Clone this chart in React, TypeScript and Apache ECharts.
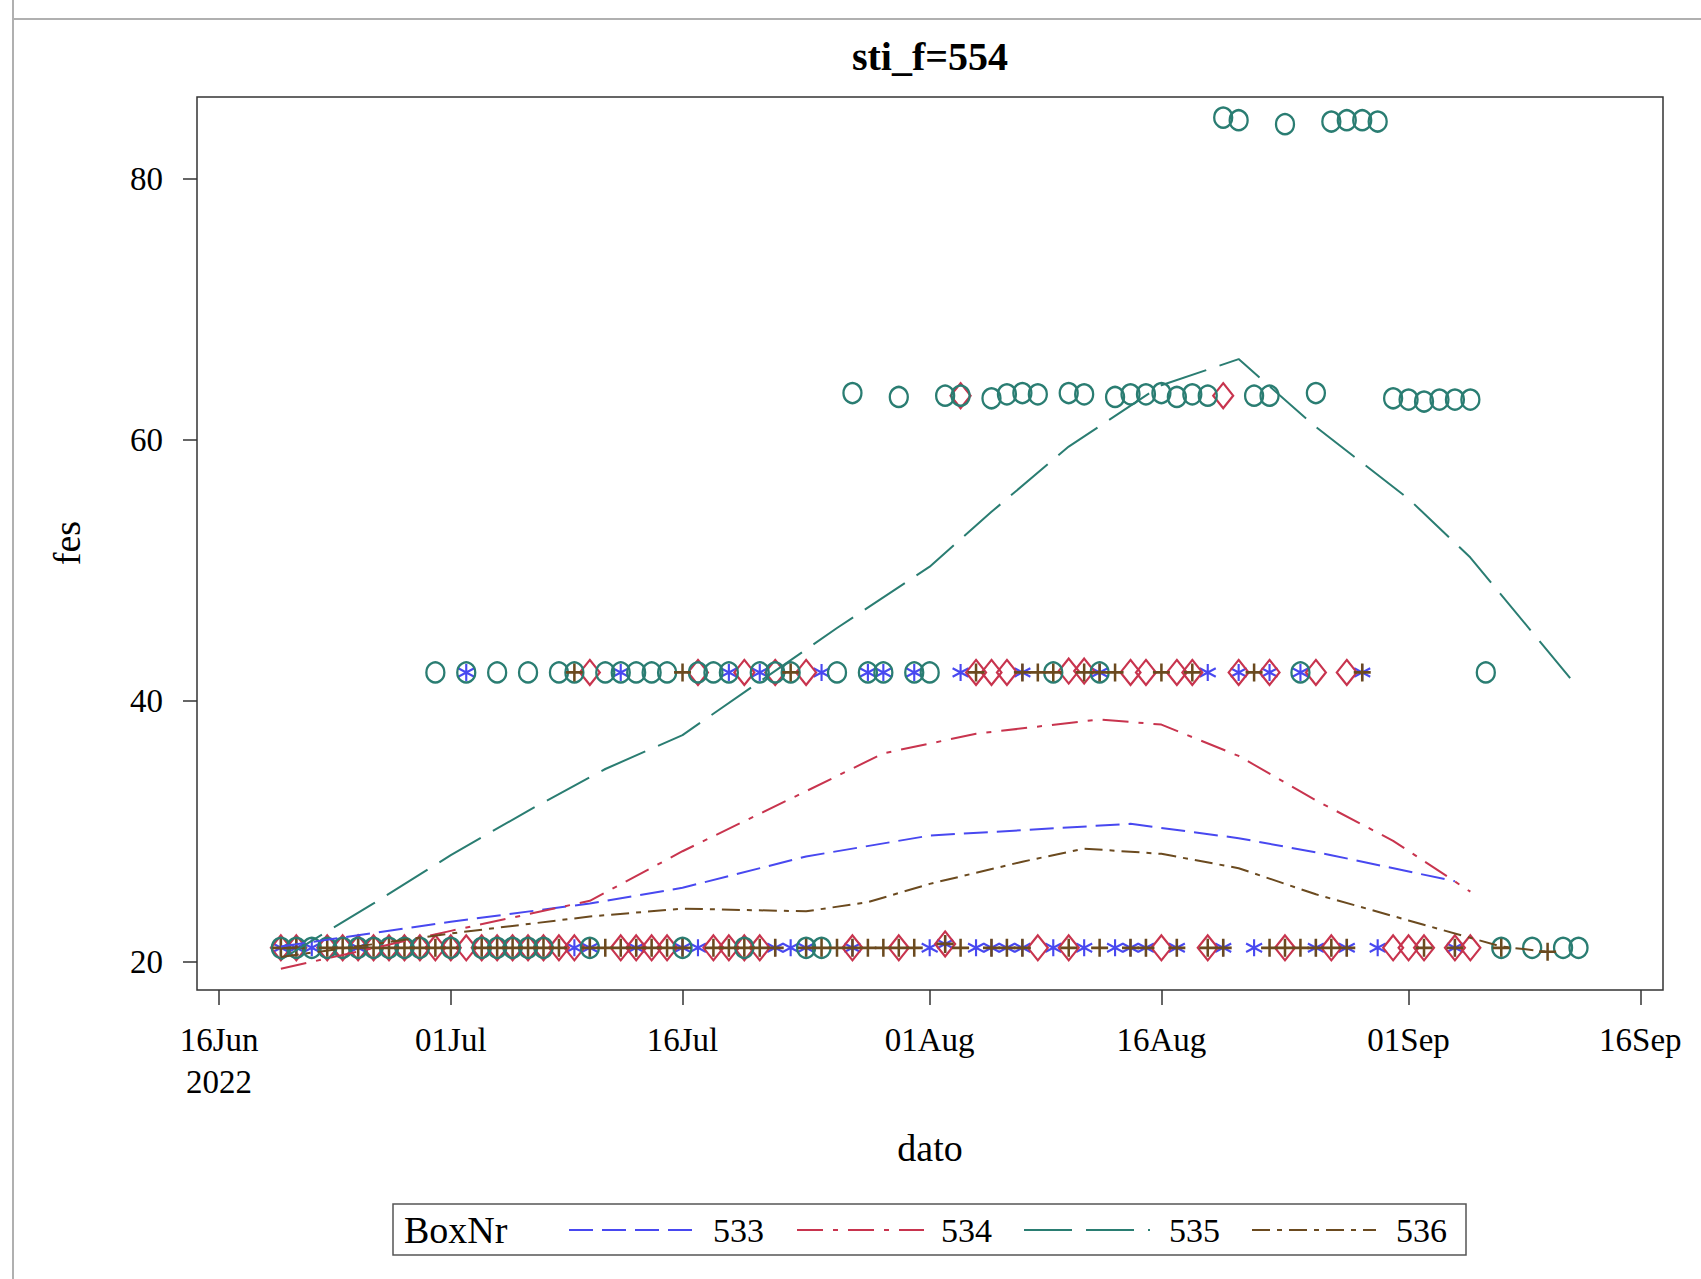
import React, { useEffect, useRef } from 'react';
import * as echarts from 'echarts';

// ---------- data ----------
const boxNames = ['533', '534', '535', '536'];
const boxColors = ['#4848f0', '#c8344e', '#2a7d72', '#6b4a1f'];

const xTickDates = ['2022-06-16', '2022-07-01', '2022-07-16', '2022-08-01', '2022-08-16', '2022-09-01', '2022-09-16'];
const yTickValues = [20, 40, 60, 80];

// scatter points: [dato, fes]
const box533Points: [string, number][] = [
  ['2022-06-20', 21.1], ['2022-06-21', 21.1], ['2022-06-22', 21.1], ['2022-06-25', 21.1], ['2022-07-09', 21.1],
  ['2022-07-10', 21.1], ['2022-07-13', 21.1], ['2022-07-16', 21.1], ['2022-07-17', 21.1], ['2022-07-22', 21.1],
  ['2022-07-23', 21.1], ['2022-07-24', 21.1], ['2022-07-27', 21.1], ['2022-08-01', 21.1], ['2022-08-02', 21.4],
  ['2022-08-04', 21.1], ['2022-08-05', 21.1], ['2022-08-06', 21.1], ['2022-08-07', 21.1], ['2022-08-09', 21.1],
  ['2022-08-11', 21.1], ['2022-08-13', 21.1], ['2022-08-14', 21.1], ['2022-08-15', 21.1], ['2022-08-17', 21.1],
  ['2022-08-20', 21.1], ['2022-08-22', 21.1], ['2022-08-26', 21.1], ['2022-08-28', 21.1], ['2022-08-30', 21.1],
  ['2022-09-04', 21.1],
  ['2022-07-02', 42.2], ['2022-07-12', 42.2], ['2022-07-19', 42.2], ['2022-07-21', 42.2], ['2022-07-25', 42.2],
  ['2022-07-28', 42.2], ['2022-07-29', 42.2], ['2022-07-31', 42.2], ['2022-08-03', 42.2], ['2022-08-07', 42.2],
  ['2022-08-12', 42.2], ['2022-08-19', 42.2], ['2022-08-21', 42.2], ['2022-08-23', 42.2], ['2022-08-25', 42.2],
  ['2022-08-29', 42.2],
];

const box534Points: [string, number][] = [
  ['2022-06-20', 21.1], ['2022-06-21', 21.1], ['2022-06-23', 21.1], ['2022-06-24', 21.1], ['2022-06-25', 21.1],
  ['2022-06-26', 21.1], ['2022-06-27', 21.1], ['2022-06-28', 21.1], ['2022-06-29', 21.1], ['2022-06-30', 21.1],
  ['2022-07-01', 21.1], ['2022-07-02', 21.1], ['2022-07-03', 21.1], ['2022-07-04', 21.1], ['2022-07-05', 21.1],
  ['2022-07-06', 21.1], ['2022-07-07', 21.1], ['2022-07-08', 21.1], ['2022-07-09', 21.1], ['2022-07-12', 21.1],
  ['2022-07-13', 21.1], ['2022-07-14', 21.1], ['2022-07-15', 21.1], ['2022-07-18', 21.1], ['2022-07-19', 21.1],
  ['2022-07-20', 21.1], ['2022-07-21', 21.1], ['2022-07-27', 21.1], ['2022-07-30', 21.1], ['2022-08-02', 21.4],
  ['2022-08-08', 21.1], ['2022-08-10', 21.1], ['2022-08-16', 21.1], ['2022-08-19', 21.1], ['2022-08-24', 21.1],
  ['2022-08-27', 21.1], ['2022-08-31', 21.1], ['2022-09-01', 21.1], ['2022-09-02', 21.1], ['2022-09-04', 21.1],
  ['2022-09-05', 21.1],
  ['2022-07-10', 42.2], ['2022-07-17', 42.2], ['2022-07-20', 42.2], ['2022-07-22', 42.2], ['2022-07-24', 42.2],
  ['2022-08-04', 42.2], ['2022-08-05', 42.2], ['2022-08-06', 42.2], ['2022-08-10', 42.3], ['2022-08-11', 42.3],
  ['2022-08-14', 42.2], ['2022-08-15', 42.2], ['2022-08-17', 42.2], ['2022-08-18', 42.2], ['2022-08-21', 42.2],
  ['2022-08-23', 42.2], ['2022-08-26', 42.2], ['2022-08-28', 42.2],
  ['2022-08-03', 63.4], ['2022-08-20', 63.4],
];

const box535Points: [string, number][] = [
  ['2022-06-20', 21.1], ['2022-06-21', 21.1], ['2022-06-22', 21.1], ['2022-06-23', 21.1], ['2022-06-24', 21.1],
  ['2022-06-25', 21.1], ['2022-06-26', 21.1], ['2022-06-27', 21.1], ['2022-06-28', 21.1], ['2022-06-29', 21.1],
  ['2022-07-01', 21.1], ['2022-07-03', 21.1], ['2022-07-04', 21.1], ['2022-07-05', 21.1], ['2022-07-06', 21.1],
  ['2022-07-07', 21.1], ['2022-07-10', 21.1], ['2022-07-16', 21.1], ['2022-07-20', 21.1], ['2022-07-24', 21.1],
  ['2022-07-25', 21.1], ['2022-09-07', 21.1], ['2022-09-09', 21.1], ['2022-09-11', 21.1], ['2022-09-12', 21.1],
  ['2022-06-30', 42.2], ['2022-07-02', 42.2], ['2022-07-04', 42.2], ['2022-07-06', 42.2], ['2022-07-08', 42.2],
  ['2022-07-09', 42.2], ['2022-07-11', 42.2], ['2022-07-12', 42.2], ['2022-07-13', 42.2], ['2022-07-14', 42.2],
  ['2022-07-15', 42.2], ['2022-07-17', 42.2], ['2022-07-18', 42.2], ['2022-07-19', 42.2], ['2022-07-21', 42.2],
  ['2022-07-22', 42.2], ['2022-07-23', 42.2], ['2022-07-26', 42.2], ['2022-07-28', 42.2], ['2022-07-29', 42.2],
  ['2022-07-31', 42.2], ['2022-08-01', 42.2], ['2022-08-09', 42.2], ['2022-08-12', 42.2], ['2022-08-25', 42.2],
  ['2022-09-06', 42.2],
  ['2022-07-27', 63.6], ['2022-07-30', 63.3], ['2022-08-02', 63.4], ['2022-08-03', 63.4], ['2022-08-05', 63.2],
  ['2022-08-06', 63.5], ['2022-08-07', 63.6], ['2022-08-08', 63.5], ['2022-08-10', 63.6], ['2022-08-11', 63.5],
  ['2022-08-13', 63.3], ['2022-08-14', 63.5], ['2022-08-15', 63.5], ['2022-08-16', 63.6], ['2022-08-17', 63.3],
  ['2022-08-18', 63.5], ['2022-08-19', 63.4], ['2022-08-22', 63.4], ['2022-08-23', 63.4], ['2022-08-26', 63.6],
  ['2022-08-31', 63.2], ['2022-09-01', 63.1], ['2022-09-02', 62.95], ['2022-09-03', 63.1], ['2022-09-04', 63.1],
  ['2022-09-05', 63.1],
  ['2022-08-20', 84.7], ['2022-08-21', 84.5], ['2022-08-24', 84.2], ['2022-08-27', 84.4], ['2022-08-28', 84.5],
  ['2022-08-29', 84.5], ['2022-08-30', 84.4],
];

const box536Points: [string, number][] = [
  ['2022-06-20', 21.1], ['2022-06-21', 21.1], ['2022-06-23', 21.1], ['2022-06-24', 21.1], ['2022-06-25', 21.1],
  ['2022-06-26', 21.1], ['2022-06-27', 21.1], ['2022-06-28', 21.1], ['2022-06-29', 21.1], ['2022-06-30', 21.1],
  ['2022-07-01', 21.1], ['2022-07-03', 21.1], ['2022-07-04', 21.1], ['2022-07-05', 21.1], ['2022-07-06', 21.1],
  ['2022-07-07', 21.1], ['2022-07-08', 21.1], ['2022-07-10', 21.1], ['2022-07-11', 21.1], ['2022-07-12', 21.1],
  ['2022-07-13', 21.1], ['2022-07-14', 21.1], ['2022-07-15', 21.1], ['2022-07-16', 21.1], ['2022-07-18', 21.1],
  ['2022-07-19', 21.1], ['2022-07-20', 21.1], ['2022-07-21', 21.1], ['2022-07-22', 21.1], ['2022-07-24', 21.1],
  ['2022-07-25', 21.1], ['2022-07-26', 21.1], ['2022-07-27', 21.1], ['2022-07-28', 21.1], ['2022-07-29', 21.1],
  ['2022-07-30', 21.1], ['2022-07-31', 21.1], ['2022-08-02', 21.4], ['2022-08-03', 21.1], ['2022-08-05', 21.1],
  ['2022-08-06', 21.1], ['2022-08-07', 21.1], ['2022-08-10', 21.1], ['2022-08-12', 21.1], ['2022-08-14', 21.1],
  ['2022-08-15', 21.1], ['2022-08-17', 21.1], ['2022-08-19', 21.1], ['2022-08-20', 21.1], ['2022-08-23', 21.1],
  ['2022-08-24', 21.1], ['2022-08-25', 21.1], ['2022-08-26', 21.1], ['2022-08-27', 21.1], ['2022-08-28', 21.1],
  ['2022-09-02', 21.1], ['2022-09-04', 21.1], ['2022-09-07', 21.1], ['2022-09-10', 20.8],
  ['2022-07-09', 42.2], ['2022-07-16', 42.2], ['2022-07-23', 42.2], ['2022-08-04', 42.2], ['2022-08-07', 42.2],
  ['2022-08-08', 42.2], ['2022-08-09', 42.2], ['2022-08-11', 42.2], ['2022-08-12', 42.2], ['2022-08-13', 42.2],
  ['2022-08-16', 42.2], ['2022-08-18', 42.2], ['2022-08-22', 42.2], ['2022-08-29', 42.2],
];

// loess fits: [dato, fes]
const box533Loess: [string, number][] = [
  ['2022-06-20', 21.2], ['2022-07-01', 23.1], ['2022-07-10', 24.5], ['2022-07-16', 25.7], ['2022-07-24', 28.1],
  ['2022-08-01', 29.7], ['2022-08-14', 30.6], ['2022-08-21', 29.5], ['2022-08-27', 28.2], ['2022-09-04', 26.2],
];
const box534Loess: [string, number][] = [
  ['2022-06-20', 19.5], ['2022-07-01', 22.4], ['2022-07-10', 24.7], ['2022-07-16', 28.5], ['2022-07-24', 33.1],
  ['2022-07-29', 36.0], ['2022-08-04', 37.5], ['2022-08-12', 38.6], ['2022-08-16', 38.2], ['2022-08-21', 35.8],
  ['2022-08-26', 32.4], ['2022-08-31', 29.3], ['2022-09-05', 25.4],
];
const box535Loess: [string, number][] = [
  ['2022-06-20', 20.2], ['2022-06-26', 24.5], ['2022-07-01', 28.2], ['2022-07-06', 31.6], ['2022-07-11', 34.8],
  ['2022-07-16', 37.4], ['2022-07-21', 41.5], ['2022-07-26', 45.6], ['2022-08-01', 50.3], ['2022-08-05', 54.5],
  ['2022-08-10', 59.5], ['2022-08-16', 64.2], ['2022-08-21', 66.2], ['2022-08-26', 61.0], ['2022-09-01', 55.5],
  ['2022-09-05', 51.0], ['2022-09-12', 41.0],
];
const box536Loess: [string, number][] = [
  ['2022-06-20', 20.4], ['2022-07-01', 22.2], ['2022-07-10', 23.5], ['2022-07-16', 24.1], ['2022-07-24', 23.9],
  ['2022-07-28', 24.6], ['2022-08-01', 26.0], ['2022-08-07', 27.7], ['2022-08-11', 28.7], ['2022-08-16', 28.3],
  ['2022-08-21', 27.2], ['2022-08-26', 25.2], ['2022-09-01', 23.2], ['2022-09-07', 21.2], ['2022-09-10', 20.8],
];

const allPoints = [box533Points, box534Points, box535Points, box536Points];
const allLoess = [box533Loess, box534Loess, box535Loess, box536Loess];

// ---------- styling ----------
const FONT = '"Liberation Serif", "Times New Roman", serif';
const MON = ['Jan', 'Feb', 'Mar', 'Apr', 'May', 'Jun', 'Jul', 'Aug', 'Sep', 'Oct', 'Nov', 'Dec'];
const DAY = 86400000;
const toTs = (s: string) => {
  const [y, m, d] = s.split('-').map(Number);
  return Date.UTC(y, m - 1, d);
};

const ASTERISK = 'path://M0,-10L0,10M-8.66,-5L8.66,5M-8.66,5L8.66,-5';
const PLUS = 'path://M0,-10L0,10M-10,0L10,0';
const symbols: any[] = [ASTERISK, 'diamond', 'circle', PLUS];
const symbolSizes: any[] = [[16, 17], [20, 25], [18, 20], [17, 18]];
const borderWidths = [2.2, 2.2, 2.4, 2.6];
const lineDashes: number[][] = [[24, 9], [26, 10, 5, 10], [48, 14], [18, 7, 5, 7]];

const GRID = { left: 197, top: 97, width: 1466, height: 893 };

function buildOption() {
  const xTicks = xTickDates.map(toTs);
  const base = xTicks[0];
  const series: any[] = [];
  allPoints.forEach((pts, i) => {
    series.push({
      type: 'scatter',
      name: boxNames[i],
      data: pts.map(([d, v]) => [toTs(d), v]),
      symbol: symbols[i],
      symbolSize: symbolSizes[i],
      itemStyle: { color: 'rgba(0,0,0,0)', borderColor: boxColors[i], borderWidth: borderWidths[i], opacity: 1 },
      silent: true,
      z: 2,
    });
  });
  allLoess.forEach((pts, i) => {
    series.push({
      type: 'line',
      name: boxNames[i] + ' loess',
      data: pts.map(([d, v]) => [toTs(d), v]),
      symbol: 'none',
      showSymbol: false,
      smooth: false,
      lineStyle: { color: boxColors[i], width: 2, type: lineDashes[i] },
      silent: true,
      z: 3,
    });
  });

  const legendY = 1230;
  const legendLines = [[569, 694], [797, 924], [1024, 1150], [1252, 1376]];
  const legendLabelX = [713, 941, 1169, 1396];
  const graphics: any[] = [
    { type: 'line', shape: { x1: 13, y1: 0, x2: 13, y2: 1279 }, style: { stroke: '#b0b0b0', lineWidth: 2 }, silent: true },
    { type: 'line', shape: { x1: 13, y1: 19, x2: 1701, y2: 19 }, style: { stroke: '#b0b0b0', lineWidth: 2 }, silent: true },
    {
      type: 'text', x: 930, y: 56,
      style: { text: 'sti_f=554', font: `bold 40px ${FONT}`, fill: '#000', textAlign: 'center', textVerticalAlign: 'middle' },
      silent: true,
    },
    {
      type: 'text', x: 930, y: 1148,
      style: { text: 'dato', font: `38px ${FONT}`, fill: '#000', textAlign: 'center', textVerticalAlign: 'middle' },
      silent: true,
    },
    {
      type: 'text', x: 67, y: 543, rotation: Math.PI / 2,
      style: { text: 'fes', font: `38px ${FONT}`, fill: '#000', textAlign: 'center', textVerticalAlign: 'middle' },
      silent: true,
    },
    {
      type: 'rect', shape: { x: 393, y: 1204, width: 1073, height: 51 },
      style: { fill: '#fff', stroke: '#555', lineWidth: 1.5 }, silent: true,
    },
    {
      type: 'text', x: 404, y: legendY,
      style: { text: 'BoxNr', font: `38px ${FONT}`, fill: '#000', textAlign: 'left', textVerticalAlign: 'middle' },
      silent: true,
    },
  ];
  boxNames.forEach((name, i) => {
    graphics.push({
      type: 'line',
      shape: { x1: legendLines[i][0], y1: legendY, x2: legendLines[i][1], y2: legendY },
      style: { stroke: boxColors[i], lineWidth: 2, lineDash: lineDashes[i] },
      silent: true,
    });
    graphics.push({
      type: 'text', x: legendLabelX[i], y: legendY,
      style: { text: name, font: `34px ${FONT}`, fill: '#000', textAlign: 'left', textVerticalAlign: 'middle' },
      silent: true,
    });
  });

  return {
    animation: false,
    backgroundColor: '#fff',
    grid: { ...GRID, show: true, borderColor: '#333', borderWidth: 1.5, backgroundColor: 'transparent', containLabel: false },
    xAxis: {
      type: 'value',
      min: base - 1.43 * DAY,
      max: base + 93.47 * DAY,
      axisLine: { show: false },
      splitLine: { show: false },
      axisTick: { show: true, inside: false, length: 15, customValues: xTicks, lineStyle: { color: '#333', width: 1.5 } },
      axisLabel: {
        show: true,
        customValues: xTicks,
        margin: 29,
        color: '#000',
        fontFamily: FONT,
        fontSize: 33,
        lineHeight: 42,
        hideOverlap: false,
        formatter: (v: number) => {
          const dt = new Date(v);
          const s = String(dt.getUTCDate()).padStart(2, '0') + MON[dt.getUTCMonth()];
          return v === base ? s + '\n' + dt.getUTCFullYear() : s;
        },
      },
    },
    yAxis: {
      type: 'value',
      min: 17.87,
      max: 86.28,
      axisLine: { show: false },
      splitLine: { show: false },
      axisTick: { show: true, inside: false, length: 14, customValues: yTickValues, lineStyle: { color: '#333', width: 1.5 } },
      axisLabel: {
        show: true,
        customValues: yTickValues,
        margin: 34,
        color: '#000',
        fontFamily: FONT,
        fontSize: 33,
      },
    },
    series,
    graphic: graphics,
  };
}

export default function App() {
  const ref = useRef<HTMLDivElement>(null);
  useEffect(() => {
    if (!ref.current) return;
    const chart = echarts.init(ref.current, null, { renderer: 'svg' });
    chart.setOption(buildOption() as any);
    return () => chart.dispose();
  }, []);
  return (
    <div
      ref={ref}
      style={{ position: 'fixed', left: 0, top: 0, width: '1701px', height: '1279px', background: '#fff' }}
    />
  );
}
